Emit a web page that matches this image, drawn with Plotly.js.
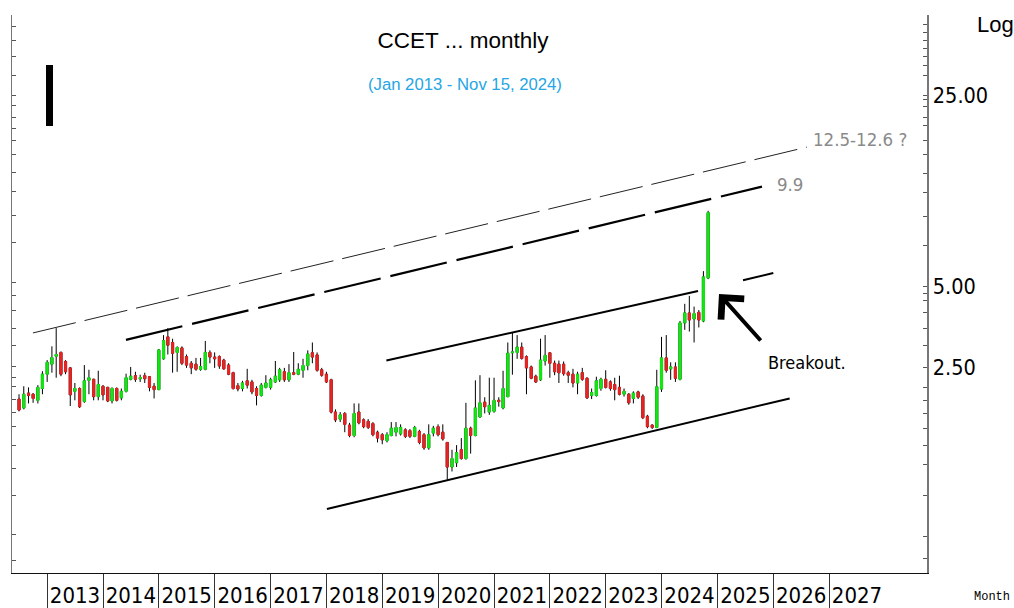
<!DOCTYPE html>
<html>
<head>
<meta charset="utf-8">
<script src="https://cdn.plot.ly/plotly-3.0.1.min.js"></script>
<style>
  html, body { margin: 0; padding: 0; background: #fff; }
  #chart { width: 1014px; height: 608px; }
</style>
</head>
<body>
<div id="chart"></div>
<script>
// ---- Data (monthly candles, first month Jul 2012, last Nov 2024) ----
const firstMonth = [2012, 7];
const opens = [
  1.92,1.78,2.02,2.00,1.90,2.10,2.37,2.58,2.76,2.85,2.64,2.50,2.05,2.10,1.88,2.25,2.27,1.96,2.14,2.12,
  1.89,2.10,1.94,2.05,2.27,2.34,2.28,2.34,2.32,2.14,2.08,2.70,3.25,3.10,2.85,2.96,2.75,2.60,2.58,2.47,
  2.47,2.85,2.74,2.75,2.67,2.56,2.40,2.15,2.10,2.24,2.22,2.10,1.98,2.12,2.12,2.22,2.26,2.42,2.26,2.40,
  2.37,2.45,2.55,2.84,2.79,2.46,2.37,2.26,1.72,1.62,1.70,1.54,1.41,1.72,1.61,1.59,1.56,1.45,1.42,1.35,
  1.41,1.45,1.43,1.48,1.47,1.40,1.46,1.42,1.27,1.44,1.52,1.45,1.33,1.08,1.12,1.25,1.16,1.50,1.41,1.65,
  1.87,1.72,1.73,1.90,1.78,1.96,2.84,2.85,2.98,2.75,2.52,2.33,2.26,2.65,2.84,2.60,2.58,2.58,2.40,2.37,
  2.20,2.40,2.29,1.98,1.98,2.10,2.27,2.22,2.17,2.12,2.00,2.00,1.93,2.04,1.97,1.66,1.54,1.51,2.09,2.72,
  2.48,2.52,2.27,3.66,3.98,3.78,4.00,3.72,5.35
];
const highs = [
  2.00,2.14,2.12,2.02,2.16,2.43,2.67,3.00,3.50,2.87,2.67,2.52,2.20,2.12,2.56,2.46,2.28,2.44,2.16,2.13,
  2.12,2.12,2.10,2.38,2.52,2.42,2.36,2.40,2.33,2.20,2.93,3.30,3.50,3.20,3.00,3.00,2.80,2.65,2.72,2.72,
  3.14,2.90,2.85,2.78,2.70,2.60,2.42,2.20,2.24,2.48,2.26,2.14,2.20,2.35,2.30,2.65,2.50,2.50,2.58,2.86,
  2.60,2.70,2.90,3.10,2.85,2.50,2.42,2.28,1.76,1.72,1.72,1.57,1.85,1.85,1.63,1.62,1.58,1.47,1.44,1.45,
  1.58,1.58,1.55,1.50,1.49,1.53,1.48,1.44,1.55,1.53,1.55,1.55,1.33,1.25,1.30,1.38,1.86,1.52,2.25,2.35,
  1.95,2.30,2.30,1.95,2.44,3.10,3.36,3.30,3.10,2.78,2.55,2.36,3.20,3.30,2.86,2.66,2.66,2.64,2.44,2.48,
  2.42,2.50,2.31,2.10,2.32,2.30,2.45,2.25,2.30,2.34,2.10,2.02,2.05,2.06,2.00,1.68,1.55,2.46,3.25,3.30,
  2.62,2.62,3.72,4.30,4.60,4.20,4.08,5.67,9.45
];
const lows = [
  1.73,1.76,1.85,1.86,1.85,2.00,2.22,2.40,2.30,2.33,2.37,1.81,1.90,1.78,1.86,2.00,1.90,1.90,1.90,1.87,
  1.85,1.88,1.90,2.03,2.25,2.22,2.22,2.20,2.05,1.93,2.07,2.68,2.80,2.40,2.42,2.56,2.50,2.37,2.44,2.44,
  2.45,2.60,2.50,2.48,2.46,2.35,2.08,2.05,2.05,2.10,2.00,1.82,1.96,2.10,2.08,2.20,2.22,2.22,2.22,2.35,
  2.35,2.30,2.45,2.60,2.42,2.32,2.20,1.70,1.58,1.58,1.45,1.39,1.39,1.55,1.50,1.49,1.40,1.33,1.31,1.33,
  1.40,1.40,1.41,1.38,1.38,1.39,1.31,1.25,1.25,1.40,1.40,1.35,0.97,1.04,1.08,1.15,1.15,1.21,1.40,1.64,
  1.70,1.68,1.71,1.80,1.76,1.95,2.36,2.70,2.68,2.00,2.27,2.20,2.24,2.55,2.30,2.35,2.20,2.34,2.20,2.12,
  2.00,2.24,1.92,1.92,1.96,2.06,2.10,2.06,1.90,1.98,1.96,1.83,1.85,1.92,1.62,1.50,1.49,1.50,2.04,2.40,
  2.26,2.22,2.25,3.45,3.40,3.10,3.52,3.68,5.30
];
const closes = [
  1.75,2.00,1.98,1.93,2.12,2.37,2.62,2.73,2.80,2.37,2.42,1.99,2.10,1.80,2.24,2.30,1.96,2.17,1.99,1.89,
  2.10,1.90,2.05,2.30,2.33,2.27,2.30,2.28,2.12,2.08,2.91,3.15,3.03,2.83,2.97,2.60,2.56,2.50,2.47,2.53,
  2.85,2.74,2.70,2.54,2.48,2.37,2.10,2.09,2.20,2.16,2.04,1.98,2.16,2.20,2.26,2.33,2.46,2.26,2.40,2.37,
  2.47,2.55,2.81,2.74,2.45,2.35,2.22,1.72,1.61,1.68,1.55,1.41,1.70,1.57,1.52,1.51,1.42,1.38,1.36,1.42,
  1.50,1.51,1.51,1.40,1.40,1.51,1.33,1.27,1.42,1.50,1.42,1.37,1.08,1.16,1.22,1.16,1.50,1.41,1.78,1.86,
  1.80,1.82,1.90,1.88,2.10,2.83,2.86,2.98,2.71,2.50,2.29,2.22,2.67,2.78,2.60,2.42,2.40,2.38,2.35,2.20,
  2.37,2.27,1.94,2.03,2.24,2.27,2.12,2.10,2.08,2.00,2.05,1.86,2.02,1.95,1.64,1.52,1.51,2.13,2.72,2.45,
  2.52,2.29,3.66,3.98,3.75,3.96,3.75,5.40,9.30
];

// hand-drawn trend lines (date, price)
const upperLineX = ['2012-09-30', '2026-08-08'];
const upperLineY = [3.36, 16.2];
const midLineX   = ['2014-05-31', '2025-10-19'];
const midLineY   = [3.17, 11.6];
const chanTopX   = ['2019-01-28', '2024-08-27'];
const chanTopY   = [2.66, 4.79];
const chanTopExtX = ['2025-06-17', '2026-01-01'];
const chanTopExtY = [5.25, 5.58];
const chanLowX   = ['2018-01-04', '2026-04-18'];
const chanLowY   = [0.757, 1.93];

// axis labels
const yearLabels = ['2013','2014','2015','2016','2017','2018','2019','2020','2021','2022','2023','2024','2025','2026','2027'];
const rightTickVals = [45.6,42.6,39.8,37.2,34.8,32.2,29.6,25,24.2,22.8,20.9,19.4,17.1,15.2,13,11,8.97,7.02,5,4.71,4.44,3.98,3.5,3.01,2.5,2.12,1.9,1.7,1.5,1.3,1.1,0.85,0.6,0.5];
const rightLabels = {25: '25.00', 5: '5.00', 2.5: '2.50'};
const leftTickVals = [44.8,39.8,35,29.8,25,23.1,20.9,19,17.2,15.2,13.1,11.1,9.12,7.2,5.17,4.6,4.05,3.5,3.03,2.52,2.31,2.13,1.92,1.71,1.52,1.3,1.07,0.85,0.61,0.49];

// ---- build ----
const dates = opens.map((_, k) => {
  const t = firstMonth[1] - 1 + k;
  const y = firstMonth[0] + Math.floor(t / 12);
  const m = (t % 12) + 1;
  return y + '-' + String(m).padStart(2, '0') + '-01';
});
const bodyHigh = opens.map((o, i) => Math.max(o, closes[i]));
const bodyLow = opens.map((o, i) => Math.min(o, closes[i]));

const NARROW = "'DejaVu Sans Condensed', 'Liberation Sans Narrow', sans-serif";
const SANS = "'Liberation Sans', Arial, sans-serif";
const GREEN = '#12e812';
const RED = '#e82424';

const xRange = ['2012-05-16', '2028-10-02'];
const yRange = [-0.35618, 1.69529];

function lineTrace(x, y, width, dash, color) {
  return {type: 'scatter', mode: 'lines', x: x, y: y, hoverinfo: 'skip', showlegend: false,
          line: {color: color || '#000', width: width, dash: dash || 'solid'}};
}

const traces = [
  {type: 'candlestick', x: dates, open: opens, high: highs, low: lows, close: closes,
   increasing: {line: {color: '#000', width: 1}, fillcolor: '#000'},
   decreasing: {line: {color: '#000', width: 1}, fillcolor: '#000'},
   whiskerwidth: 0, showlegend: false, hoverinfo: 'skip'},
  {type: 'candlestick', x: dates, open: opens, high: bodyHigh, low: bodyLow, close: closes,
   increasing: {line: {color: GREEN, width: 1}, fillcolor: GREEN},
   decreasing: {line: {color: RED, width: 1}, fillcolor: RED},
   whiskerwidth: 0, showlegend: false, hoverinfo: 'skip'},
  lineTrace(upperLineX, upperLineY, 1, '44px,9px', '#222'),
  lineTrace(midLineX, midLineY, 2.2, '58px,10px'),
  lineTrace(chanTopX, chanTopY, 2),
  lineTrace(chanTopExtX, chanTopExtY, 2),
  lineTrace(chanLowX, chanLowY, 2),
  {type: 'scatter', mode: 'markers', x: [], y: [], xaxis: 'x2', yaxis: 'y2', showlegend: false, hoverinfo: 'skip'}
];

const yearTicks = yearLabels.map(y => y + '-01-01');
const yearMid = yearLabels.map(y => y + '-07-02');

function toPaperY(py) { return 1 - (py - 15) / 558; }
function toPaperX(px) { return (px - 12) / 915; }

const layout = {
  width: 1014, height: 608,
  margin: {l: 12, r: 87, t: 15, b: 35, pad: 0},
  paper_bgcolor: '#fff', plot_bgcolor: '#fff',
  showlegend: false,
  title: {text: 'CCET ... monthly', font: {family: SANS, size: 22.5, color: '#000'},
          x: 463 / 1014, xref: 'container', xanchor: 'center', y: 1 - 40 / 608, yref: 'container', yanchor: 'middle'},
  xaxis: {type: 'date', range: xRange, rangeslider: {visible: false},
          tickmode: 'array', tickvals: yearTicks, ticktext: yearLabels.map(() => ''),
          ticks: 'outside', ticklen: 35, tickwidth: 1, tickcolor: '#333',
          showticklabels: false, showline: true, linecolor: '#111', linewidth: 1.2,
          showgrid: false, zeroline: false, fixedrange: true},
  xaxis2: {type: 'date', range: xRange, overlaying: 'x', anchor: 'y', side: 'bottom',
           tickmode: 'array', tickvals: yearMid, ticktext: yearLabels, tickangle: 0,
           ticks: '', showline: false, showgrid: false, zeroline: false,
           ticklabelstandoff: 7,
           tickfont: {family: NARROW, size: 22, color: '#000'}},
  yaxis: {type: 'log', range: yRange, side: 'left',
          tickmode: 'array', tickvals: leftTickVals, ticks: 'inside', ticklen: 4, tickcolor: '#555',
          showticklabels: false, showline: true, linecolor: '#777', linewidth: 1.5,
          showgrid: false, zeroline: false},
  yaxis2: {type: 'log', range: yRange, overlaying: 'y', anchor: 'x', side: 'right',
           tickmode: 'array', tickvals: rightTickVals,
           ticktext: rightTickVals.map(v => rightLabels[v] || ''),
           ticks: 'inside', ticklen: 4, tickcolor: '#555',
           tickfont: {family: NARROW, size: 21.5, color: '#000'},
           showline: true, linecolor: '#777', linewidth: 1.5,
           showgrid: false, zeroline: false},
  shapes: [
    {type: 'rect', xref: 'paper', yref: 'paper', x0: toPaperX(46), x1: toPaperX(53),
     y0: toPaperY(126), y1: toPaperY(65), fillcolor: '#000', line: {width: 0}}
  ],
  annotations: [
    {text: '(Jan 2013 - Nov 15, 2024)', xref: 'paper', yref: 'paper', x: toPaperX(465), y: toPaperY(84),
     xanchor: 'center', yanchor: 'middle', showarrow: false, font: {family: SANS, size: 16.7, color: '#26a6e4'}},
    {text: 'Log', xref: 'paper', yref: 'paper', x: toPaperX(975), y: toPaperY(25),
     xanchor: 'left', yanchor: 'middle', showarrow: false, font: {family: SANS, size: 22, color: '#000'}},
    {text: '12.5-12.6 ?', xref: 'paper', yref: 'paper', x: toPaperX(811), y: toPaperY(140),
     xanchor: 'left', yanchor: 'middle', showarrow: false, font: {family: NARROW, size: 18.5, color: '#8a8a8a'}},
    {text: '9.9', xref: 'paper', yref: 'paper', x: toPaperX(775), y: toPaperY(184),
     xanchor: 'left', yanchor: 'middle', showarrow: false, font: {family: NARROW, size: 18.5, color: '#8a8a8a'}},
    {text: 'Breakout.', xref: 'paper', yref: 'paper', x: toPaperX(766), y: toPaperY(362),
     xanchor: 'left', yanchor: 'middle', showarrow: false, font: {family: NARROW, size: 18, color: '#000'}},
    {text: '', xref: 'paper', yref: 'paper', x: toPaperX(719), y: toPaperY(294),
     ax: 43, ay: 48, showarrow: true, arrowhead: 4, arrowsize: 1.5, arrowwidth: 4, arrowcolor: '#000', standoff: 0},
    {text: 'Month', xref: 'paper', yref: 'paper', x: toPaperX(972), y: toPaperY(597),
     xanchor: 'left', yanchor: 'middle', showarrow: false, font: {family: "'Liberation Mono', 'DejaVu Sans Mono', monospace", size: 12, color: '#000'}}
  ]
};

Plotly.newPlot('chart', traces, layout, {staticPlot: true, displayModeBar: false});
</script>
</body>
</html>
